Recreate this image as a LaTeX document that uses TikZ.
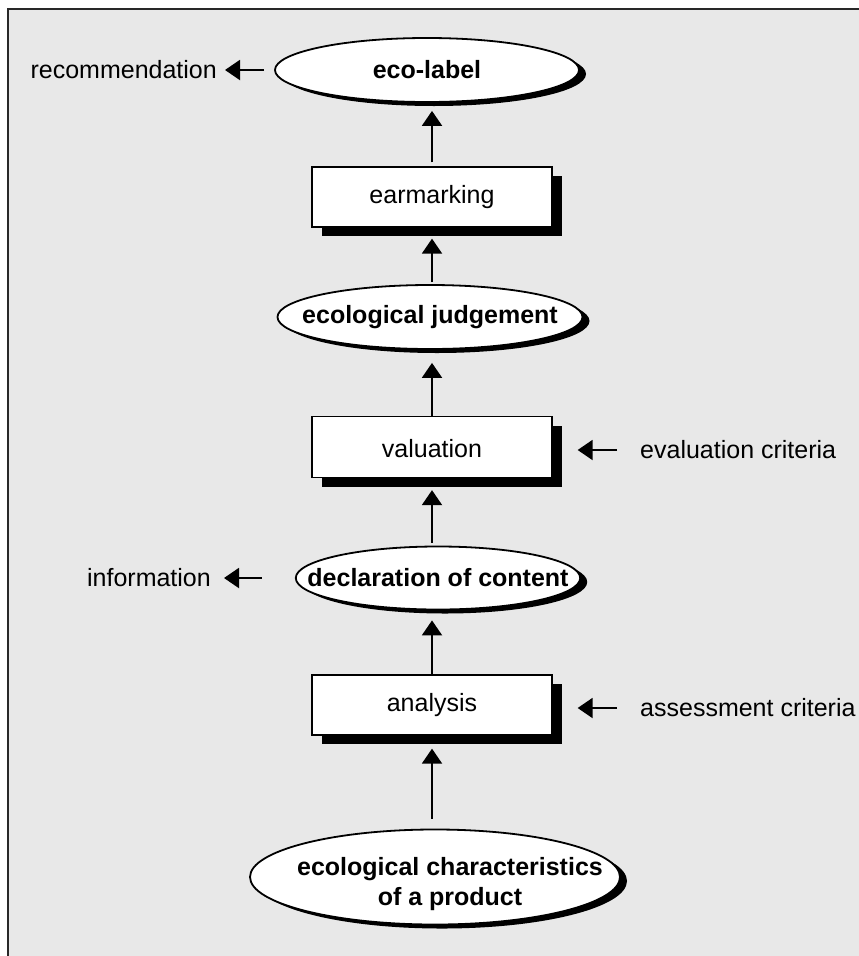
\documentclass[tikz,border=0pt]{standalone}
\usepackage{fontspec}
\setmainfont{Liberation Sans}
\usetikzlibrary{arrows.meta,shapes.geometric,shadows}
\definecolor{bggray}{RGB}{232,232,232}
\definecolor{framegray}{RGB}{40,40,40}
\newcommand{\labelfont}{\fontsize{25}{30}\selectfont}
\newcommand{\indentline}{\hspace*{30pt}}
\tikzset{
  stepbox/.style={draw, line width=1.3pt, fill=white, minimum width=240pt, minimum height=60pt,
    drop shadow={shadow xshift=10pt, shadow yshift=-9pt, fill=black, opacity=1}, font=\labelfont},
  result/.style={ellipse, draw, line width=1.8pt, fill=white, inner xsep=-30pt, inner ysep=0pt,
    drop shadow={shadow xshift=7pt, shadow yshift=-4pt, fill=black, opacity=1},
    font=\labelfont\bfseries, align=center},
  side/.style={inner sep=0pt, font=\labelfont},
  flow/.style={line width=2pt, -{Triangle[width=20pt,length=15pt]}}
}

\begin{document}
\begin{tikzpicture}[x=1pt,y=-1pt]
\useasboundingbox (0,0) rectangle (859,956);
\fill[bggray] (8,9) rectangle (859,956);
\draw[line width=2pt, framegray] (8,956)--(8,9)--(859,9);
\node[result, minimum width=304pt, minimum height=64pt] (ecolabel) at (427,70) {eco-label};
\node[stepbox] (earmarking) at (432,197) {earmarking};
\node[result, minimum width=305pt, minimum height=64pt] (judgement) at (430,317) {ecological judgement};
\node[stepbox, minimum height=61pt] (valuation) at (432,447) {\rule{0pt}{22pt}valuation};
\node[result, minimum width=280pt, minimum height=63pt] (declaration) at (438,578) {declaration of content};
\node[stepbox] (analysis) at (432,705) {analysis};
\node[result, inner xsep=-50pt, minimum width=370pt, minimum height=95pt] (characteristics) at (435,877)
  {\rule{0pt}{32pt}\indentline ecological characteristics\\\indentline of a product};
\node[side, anchor=east] (recommendation) at (217,70) {recommendation};
\node[side, anchor=east] (information) at (211,578) {information};
\node[side, anchor=west] (evaluation) at (640,450) {evaluation criteria};
\node[side, anchor=west] (assessment) at (640,708) {assessment criteria};
\draw[flow, shorten <=4pt, shorten >=8pt] (earmarking.north) -- (earmarking.north |- ecolabel.south);
\draw[flow, shorten <=2pt, shorten >=11pt] (earmarking.south |- judgement.north) -- (earmarking.south);
\draw[flow, shorten >=13pt] (valuation.north) -- (valuation.north |- judgement.south);
\draw[flow, shorten <=3pt, shorten >=12pt] (valuation.south |- declaration.north) -- (valuation.south);
\draw[flow, shorten >=10pt] (analysis.north) -- (analysis.north |- declaration.south);
\draw[flow, shorten <=10pt, shorten >=13pt] (analysis.south |- characteristics.north) -- (analysis.south);
\draw[flow, shorten <=10pt, shorten >=8pt] (ecolabel.west) -- (recommendation.east);
\draw[flow, shorten <=33pt, shorten >=13pt] (declaration.west) -- (declaration.west -| information.east);
\draw[flow, shorten <=23pt, shorten >=25pt] (evaluation.west) -- (evaluation.west -| valuation.east);
\draw[flow, shorten <=23pt, shorten >=25pt] (assessment.west) -- (assessment.west -| analysis.east);
\end{tikzpicture}
\end{document}
